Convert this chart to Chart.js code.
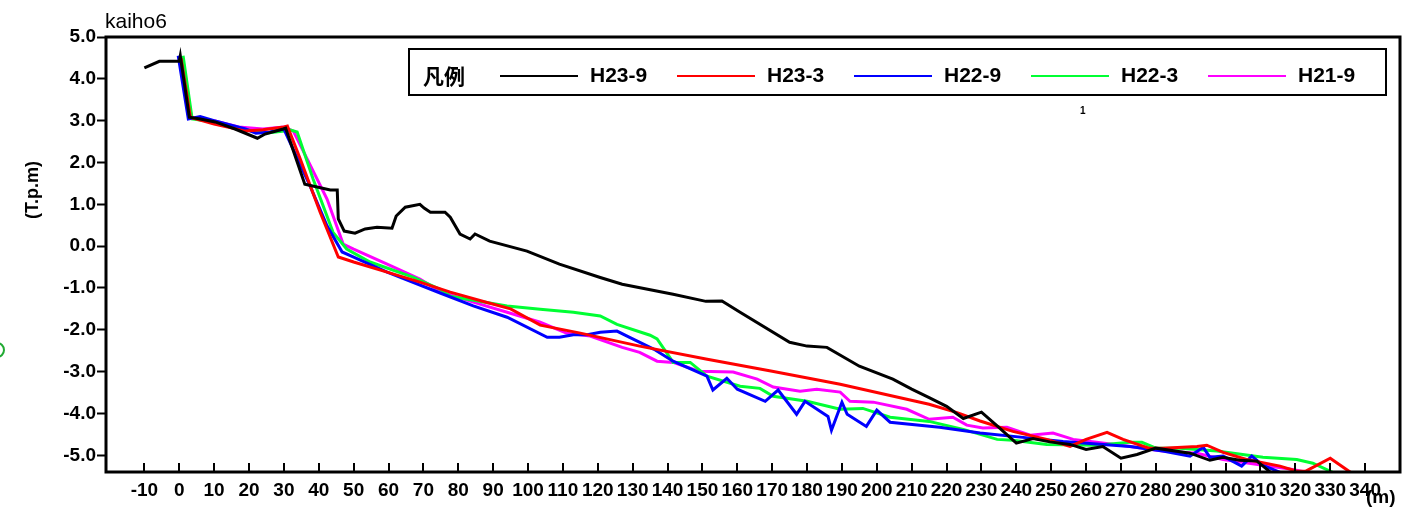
<!DOCTYPE html>
<html><head><meta charset="utf-8">
<script src="https://cdn.jsdelivr.net/npm/chart.js@4.4.1/dist/chart.umd.min.js"></script>
<style>html,body{margin:0;padding:0;background:#fff;overflow:hidden}#wrap{width:1426px;height:512px}</style>
</head><body><div id="wrap"><canvas id="c" width="1426" height="512"></canvas></div>
<script>
const chartTitle = 'kaiho6';
const yAxisTitle = '(T.p.m)';
const xAxisUnit = '(m)';
const legendHeader = '凡例';
const seriesNames = ['H23-9', 'H23-3', 'H22-9', 'H22-3', 'H21-9'];
const seriesColors = ['#000000', '#ff0000', '#0000ff', '#00ff33', '#ff00ff'];
const xTickLabels = [-10,0,10,20,30,40,50,60,70,80,90,100,110,120,130,140,150,160,170,180,190,200,210,220,230,240,250,260,270,280,290,300,310,320,330,340];
const yTickLabels = [5,4,3,2,1,0,-1,-2,-3,-4,-5];

const h23_9_x = [-10,-5.7,0,0.3,2.9,6,10.3,16,22.4,24.6,29.8,30.5,36,43.3,45.3,45.6,47.3,50.4,53.3,56.7,61,62.2,64.8,69,70.2,72,76.2,77.7,80.5,83.4,84.8,89,99.7,109,120.7,127,141.6,151,155.6,160.8,175,180,185.7,195,204.6,210,215,220,224.8,230,234.5,240,244.8,249.6,255.4,260,264.8,270,274.6,280,289.8,295.5,299.2,304,309,313.5];
const h23_9_y = [4.26,4.42,4.42,4.55,3.08,3.04,2.97,2.8,2.58,2.68,2.8,2.82,1.48,1.34,1.34,0.65,0.36,0.31,0.41,0.45,0.43,0.72,0.93,1.0,0.91,0.81,0.81,0.69,0.29,0.17,0.29,0.12,-0.12,-0.43,-0.75,-0.91,-1.15,-1.32,-1.31,-1.58,-2.3,-2.39,-2.42,-2.87,-3.18,-3.42,-3.62,-3.83,-4.12,-3.97,-4.3,-4.71,-4.6,-4.68,-4.74,-4.86,-4.79,-5.07,-4.98,-4.83,-4.95,-5.12,-5.05,-5.12,-5.14,-5.45];

const h23_3_x = [0.5,3.2,10,19,24,30,31,34.7,40.4,45.6,50,59.6,69,77.7,88,95,103.5,115,132,151,170,189.5,208.6,215,223,229.6,239,248.7,255.4,260,266,270.6,278,282,291.8,294.6,299.3,306,315.6,320.4,323,330,336];
const h23_3_y = [4.5,3.08,2.92,2.75,2.78,2.85,2.87,2.08,0.81,-0.26,-0.38,-0.62,-0.86,-1.1,-1.34,-1.5,-1.89,-2.08,-2.39,-2.7,-2.99,-3.3,-3.66,-3.78,-3.98,-4.18,-4.43,-4.62,-4.79,-4.62,-4.45,-4.62,-4.83,-4.83,-4.79,-4.76,-4.93,-5.1,-5.26,-5.38,-5.38,-5.07,-5.42];

const h22_9_x = [-0.3,2.6,6,10,19,22,26,30,37.5,42.4,46.7,50,59.6,74.8,84.3,94,105.5,109,113,117,120.7,125.5,128.4,136,141.6,151.3,153,157,160,168,171.7,177,179.4,186,187,190,191.5,197,200,203.8,218,229.6,244,253.4,272.6,282,289.8,293.6,295.5,299.3,304.6,307.5,310.7,316];
const h22_9_y = [4.55,3.04,3.1,3.0,2.8,2.7,2.73,2.8,1.44,0.48,-0.14,-0.26,-0.62,-1.12,-1.43,-1.7,-2.18,-2.18,-2.12,-2.12,-2.06,-2.03,-2.15,-2.46,-2.75,-3.11,-3.44,-3.16,-3.42,-3.71,-3.44,-4.02,-3.71,-4.07,-4.4,-3.73,-4.02,-4.31,-3.92,-4.21,-4.33,-4.47,-4.59,-4.67,-4.79,-4.9,-5.02,-4.81,-5.05,-5.02,-5.26,-5.02,-5.24,-5.42];

const h22_3_x = [1.1,3.7,9,17,24.6,30,31,33.8,38.4,44.1,48,54.7,67,74.8,77.7,94,103.5,113,120.7,125.5,135,137,140,141.6,146.5,151.3,160.8,166.5,170.3,180,189.5,196,203.8,215,224.8,234.5,239,248.7,263,272.6,276,280,286.9,297.5,310.7,320.4,325,331];
const h22_3_y = [4.55,3.04,2.98,2.82,2.7,2.75,2.8,2.73,1.6,0.33,-0.07,-0.38,-0.74,-1.03,-1.2,-1.43,-1.51,-1.58,-1.67,-1.87,-2.13,-2.22,-2.58,-2.78,-2.78,-3.11,-3.35,-3.4,-3.59,-3.71,-3.9,-3.88,-4.09,-4.19,-4.38,-4.62,-4.64,-4.74,-4.76,-4.69,-4.69,-4.83,-4.83,-4.9,-5.05,-5.1,-5.19,-5.42];

const h21_9_x = [1,3.5,10,17,24,30,32.7,36.7,42.4,47,50,59.6,69,74.8,84.3,94,103.5,111,117.8,127,132,137,141.6,149,158.8,165.7,170.3,178,182.8,189.5,192.3,199,208.6,215,221.8,225.8,230.4,237.3,244,250.5,256.3,263,272.6,282,291.8,299.3,310.7,318.4,324];
const h21_9_y = [4.5,3.06,3.0,2.85,2.8,2.85,2.75,2.08,1.12,0.05,-0.07,-0.43,-0.79,-1.08,-1.34,-1.58,-1.82,-2.08,-2.15,-2.42,-2.54,-2.75,-2.78,-2.99,-3.01,-3.18,-3.37,-3.47,-3.42,-3.49,-3.71,-3.73,-3.9,-4.14,-4.09,-4.28,-4.35,-4.33,-4.52,-4.47,-4.62,-4.69,-4.79,-4.9,-4.95,-5.1,-5.24,-5.33,-5.42];

const seriesX = [h23_9_x, h23_3_x, h22_9_x, h22_3_x, h21_9_x];
const seriesY = [h23_9_y, h23_3_y, h22_9_y, h22_3_y, h21_9_y];

const FONT = 'Liberation Sans, Arial, sans-serif';

const datasets = seriesNames.map((name, i) => ({
  label: name,
  data: seriesX[i].map((x, j) => ({x: x, y: seriesY[i][j]})),
  borderColor: seriesColors[i],
  backgroundColor: seriesColors[i],
  borderWidth: 3,
  pointRadius: 0,
  tension: 0,
  fill: false
}));

const decor = {
  id: 'decor',
  afterDatasetsDraw(chart) {
    const ctx = chart.ctx, a = chart.chartArea, xs = chart.scales.x;
    ctx.save();
    // inward x ticks
    ctx.strokeStyle = '#000';
    ctx.lineWidth = 2;
    ctx.beginPath();
    xTickLabels.forEach(v => {
      const px = Math.round(xs.getPixelForValue(v));
      ctx.moveTo(px, a.bottom);
      ctx.lineTo(px, a.bottom - 9);
    });
    ctx.stroke();
    // frame
    ctx.lineWidth = 3;
    ctx.strokeRect(a.left, a.top, a.right - a.left, a.bottom - a.top);
    ctx.restore();
  },
  afterDraw(chart) {
    const ctx = chart.ctx;
    ctx.save();
    ctx.fillStyle = '#000';
    // title
    ctx.font = '21px ' + FONT;
    ctx.textAlign = 'left';
    ctx.textBaseline = 'alphabetic';
    ctx.fillText(chartTitle, 105, 28);
    // y axis title
    ctx.save();
    ctx.translate(33, 190);
    ctx.rotate(-Math.PI / 2);
    ctx.font = 'bold 18px ' + FONT;
    ctx.textAlign = 'center';
    ctx.textBaseline = 'middle';
    ctx.fillText(yAxisTitle, 0, 0);
    ctx.restore();
    // x unit
    ctx.font = 'bold 19px ' + FONT;
    ctx.textAlign = 'left';
    ctx.textBaseline = 'middle';
    ctx.fillText(xAxisUnit, 1366, 498);
    // small stray mark
    ctx.font = 'bold 10px ' + FONT;
    ctx.fillText('1', 1080, 111);
    // green circle at left edge
    ctx.strokeStyle = '#22aa33';
    ctx.lineWidth = 2;
    ctx.beginPath();
    ctx.arc(-3, 350, 7, 0, Math.PI * 2);
    ctx.stroke();
    // legend
    ctx.fillStyle = '#fff';
    ctx.fillRect(409, 49, 977, 46);
    ctx.strokeStyle = '#000';
    ctx.lineWidth = 2;
    ctx.strokeRect(409, 49, 977, 46);
    ctx.fillStyle = '#000';
    ctx.font = 'bold 21px "Noto Sans CJK JP", sans-serif';
    ctx.textBaseline = 'middle';
    ctx.fillText(legendHeader, 423, 76);
    ctx.font = 'bold 21px ' + FONT;
    chart.data.datasets.forEach((ds, i) => {
      const x0 = 500 + i * 177;
      ctx.strokeStyle = ds.borderColor;
      ctx.lineWidth = 2;
      ctx.beginPath();
      ctx.moveTo(x0, 76);
      ctx.lineTo(x0 + 78, 76);
      ctx.stroke();
      ctx.fillStyle = '#000';
      ctx.fillText(ds.label, x0 + 90, 76);
    });
    ctx.restore();
  }
};

new Chart(document.getElementById('c'), {
  type: 'line',
  data: { datasets: datasets },
  options: {
    responsive: false,
    animation: false,
    devicePixelRatio: 1,
    layout: { padding: { top: 37, right: 26, left: 0, bottom: 0 } },
    plugins: { legend: { display: false }, title: { display: false }, tooltip: { enabled: false } },
    scales: {
      x: {
        type: 'linear',
        min: -21,
        max: 350,
        afterBuildTicks(scale) { scale.ticks = xTickLabels.map(v => ({ value: v })); },
        afterFit(scale) { scale.height = 40; },
        grid: { display: false, drawTicks: false },
        border: { display: false },
        ticks: {
          autoSkip: false,
          maxRotation: 0,
          minRotation: 0,
          padding: 7,
          color: '#000',
          font: { family: FONT, size: 19, weight: 'bold' },
          callback: v => String(v)
        }
      },
      y: {
        type: 'linear',
        min: -5.4,
        max: 5.0,
        afterBuildTicks(scale) { scale.ticks = yTickLabels.map(v => ({ value: v })); },
        afterFit(scale) { scale.width = 106; },
        grid: { display: true, drawOnChartArea: false, drawTicks: true, tickLength: 9, tickWidth: 2, tickColor: '#000' },
        border: { display: false },
        ticks: {
          autoSkip: false,
          padding: 1,
          color: '#000',
          font: { family: FONT, size: 19, weight: 'bold' },
          callback: v => Number(v).toFixed(1)
        }
      }
    }
  },
  plugins: [decor]
});
</script></body></html>
